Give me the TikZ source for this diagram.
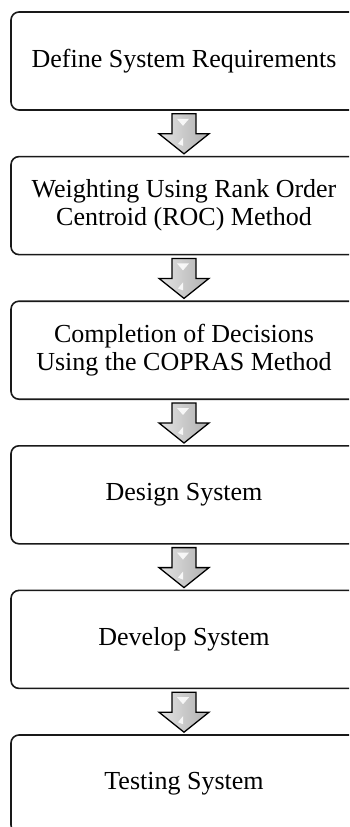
\documentclass[tikz,border=0pt]{standalone}
\usepackage{fontspec}
\setmainfont{Liberation Serif}
\usetikzlibrary{calc}

\tikzset{
  stagebox/.style={draw=black!90, line width=1.6pt, rounded corners=8pt,
    minimum width=346pt, minimum height=98pt, inner sep=0pt,
    align=center, font=\fontsize{26}{28}\selectfont},
  flowarrow/.style={draw=black, line width=1.3pt, line join=miter,
    left color=gray!22, right color=gray!62},
  shine/.style={fill=white, draw=none, opacity=0.85}
}

% block arrow from the bottom of one stage to the top of the next
\newcommand{\stagearrow}[2]{%
  \draw[flowarrow]
    ($(#1.south)+(-12,-3)$) -- ($(#1.south)+(12,-3)$) --
    ($(#1.south)+(12,-23)$) -- ($(#1.south)+(25,-23)$) --
    ($(#2.north)+(0,2)$) --
    ($(#1.south)+(-25,-23)$) -- ($(#1.south)+(-12,-23)$) -- cycle;
  \fill[shine] ($(#1.south)+(-7,-8)$) -- ($(#1.south)+(5,-8)$) --
    ($(#1.south)+(-1,-15)$) -- cycle;
  \fill[shine] ($(#1.south)+(-1,-27)$) -- ($(#1.south)+(-1,-35)$) --
    ($(#1.south)+(-6,-33)$) -- cycle;
}

\begin{document}
\begin{tikzpicture}[x=1pt, y=1pt]
  \useasboundingbox (0,0) rectangle (349,-827);
  \clip (0,0) rectangle (349,-827);

  \node[stagebox] (s1) at (184,-61)    {Define System Requirements};
  \node[stagebox] (s2) at (184,-205.6) {Weighting Using Rank Order\\Centroid (ROC) Method};
  \node[stagebox] (s3) at (184,-350.2) {Completion of Decisions\\Using the COPRAS Method};
  \node[stagebox] (s4) at (184,-494.8) {Design System};
  \node[stagebox] (s5) at (184,-639.4) {Develop System};
  \node[stagebox] (s6) at (184,-784)   {Testing System};

  \stagearrow{s1}{s2}
  \stagearrow{s2}{s3}
  \stagearrow{s3}{s4}
  \stagearrow{s4}{s5}
  \stagearrow{s5}{s6}
\end{tikzpicture}
\end{document}
